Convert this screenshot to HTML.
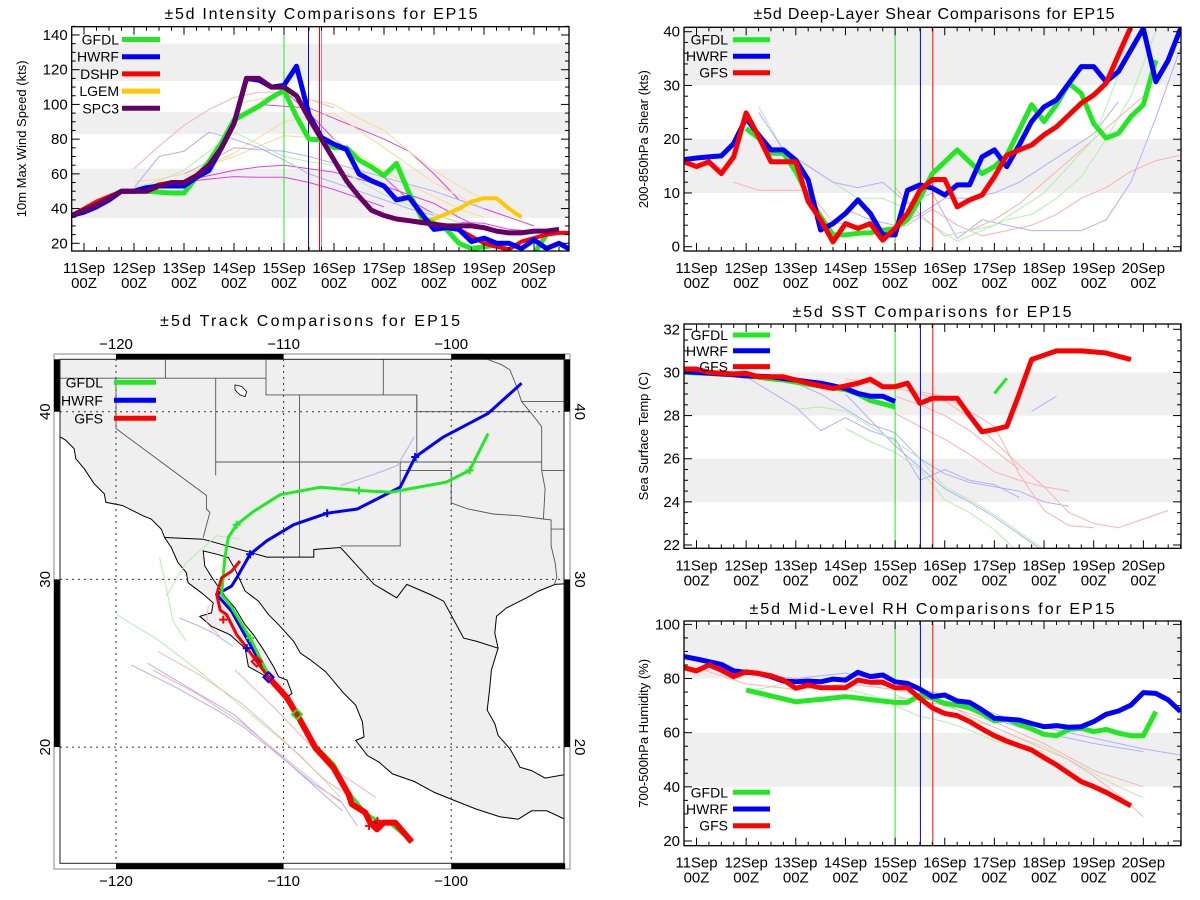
<!DOCTYPE html>
<html><head><meta charset="utf-8"><title>EP15 comparisons</title>
<style>
html,body{margin:0;padding:0;background:#fff;}
svg{display:block;font-family:"Liberation Sans",sans-serif;}
</style></head>
<body>
<svg id="root" width="1200" height="900" viewBox="0 0 1200 900" xmlns="http://www.w3.org/2000/svg">
<defs>
<clipPath id="c1"><rect x="71.7" y="26.7" width="497.3" height="224.3"/></clipPath>
<clipPath id="c2"><rect x="684" y="27.3" width="497" height="223.7"/></clipPath>
<clipPath id="c3"><rect x="684" y="324" width="497" height="224.3"/></clipPath>
<clipPath id="c4"><rect x="684" y="621" width="497" height="224.7"/></clipPath>
<clipPath id="cm"><rect x="60" y="359.3" width="504" height="504"/></clipPath>
</defs>
</svg>
<script>
// ---------- Intensity (kts), 6-hourly starting 10 Sep 18Z (t=-0.25 days from 11Sep00Z)
const intStart = -0.25;
const intGFDL = [36,38,42,46,50,50,50,49.5,49,49,58,67,78,91,95,99,104,108,93,80,79.5,75,75,68,64,59,66,49,35,31.5,28,20,17,18,19,16,null,14,25];
const intHWRF = [36,38,41,45,50,50,52,53,53,53,58,62,75,89,115,114,110,111,122,94,81,77,74,60,56,53,45,46.5,37,28,29,28,21,23,20,20,17,22,17,20,16];
const intDSHP = [36,40,44,47,50,50,51,54,55,55,59,65,75,89,115,115,110,110,105,92,80,68,56,47,39,36,34,33,32,31,30,28,24,20,18,16.5,21,23,25,26,26];
const intLGEM = [36,39,42,46,50,50,50,53,55,55,59,65,75,89,115,115,110,110,105,92,80,68,56,47,39,36,34,33,33,34,37,40,44,46,46,40,35];
const intSPC3 = [36,39,42,46,50,50,50,53,55,55,59,65,75,89,115,115,110,110,105,92,80,68,56,47,39,36,34,33,32,31,30,30,30,29,27,26,26,27,27,28];
const intLegend = ['GFDL','HWRF','DSHP','LGEM','SPC3'];
// faint ensemble members: start day, 12-hourly values
const intThinStarts = [1,2,2,3.5,4,1,2,3,1,2,1];
const intThinColors = ['#ffb0b0','#e040e0','#e040e0','#e040e0','#e040e0','#ffd890','#ffd890','#ffd890','#b0b0ff','#b0b0ff','#b0f0b0'];
const intThinVals = [
 [63,76,88,97,104,107,107,103,98],
 [55.5,57,58.4,58,58,55,51,46,41],
 [56,59,62,64,65,63,61,57,53,48,43,35,28],
 [100,99,98,92,86,80,73,60,45,40,35,30],
 [108,95,80,69,58,45,37,32,31.5,28,27],
 [55.5,57,60,65,70,76,82,81,80,71,62,54,47,40,35],
 [58,65,72,81,90,93,95,85,75,65,55,47,40],
 [100,103,106,103,100,92,85,73,62,53,45],
 [52,70,73,84,80,75,68,60,55,50,45,40,36],
 [60,67,75,74,73,70,66,62,58,54,50,45,40],
 [52,56,62,73,84,77,70,67,65,56,48,42,37,32,28]
];
// ---------- Shear (kts)
const shStart = -0.25;
const shHWRF = [16.2,16.5,16.7,16.9,19.2,23.9,20.8,18,18,16.1,12.4,3.1,4.3,6.2,8.7,6.2,2.2,2.2,10.5,11.5,10.9,9.6,11.5,11.5,16.7,18,14.9,18.9,23.3,26,27.3,30.4,33.5,33.5,30.7,32.6,36.6,40.6,30.7,34.7,40.6];
const shGFS = [15.8,14.9,15.8,13.6,16.7,24.9,20.5,15.8,15.8,15.8,8.4,5,0.9,4.3,3.4,4.3,1.2,3.4,6.2,10.5,12.5,12.5,7.4,8.7,9.6,13,17,18,18.9,20.8,22.3,24.5,26.7,28.2,30.4,35.7,40.9];
const shGFDLStart = 1.0;
const shGFDL = [22,20.2,17.4,17.4,14,9.3,5.6,2.2,2.2,2.5,2.6,3,3.4,5,9,13.6,15.8,18,15.8,13.6,14.9,17,21.7,26.4,23.3,26.4,30.4,28.5,22.9,20.2,21.1,24.2,26.4,34.7];
const shThinStarts = [0.75,1.25,1.25,3,4,5];
const shThinColors = ['#ffb0b0','#b0f0b0','#b0b0ff','#b0b0ff','#ffb0b0','#b0f0b0'];
const shThinVals = [
 [12,10.5,10.5,10.5,4.5,4,3.5,4,7,4,2,3,4,6,9,11,14,16,17,20,22],
 [26,18,15,12,9,9,7,4,1,3,5,6,9,13,20,28,40],
 [25,18,15,12,11,12,8,10,1.5,5,4,3,3,3,5,12,24,37,26],
 [7,5,4,6,9,9,10,12,15,18,21,27],
 [11,6,2,3,5,8,12,16,20,24,28],
 [2,3,4,7,10,15,20,32]
];
// ---------- SST (C)
const sstStart = -0.25;
const sstGFS = [30.16,30.16,30.0,29.96,29.93,29.96,29.8,29.8,29.8,29.65,29.5,29.37,29.26,29.37,29.5,29.68,29.34,29.34,29.5,28.57,28.8,28.8,28.8,28.0,27.25,27.35,27.5,29.0,30.6,30.8,31.0,31.0,31.0,30.95,30.9,30.75,30.6];
const sstHWRF = [30.04,30.0,29.97,29.93,29.9,29.84,29.82,29.8,29.72,29.65,29.57,29.5,29.38,29.26,29.03,28.9,28.9,28.65];
const sstGFDL = [30.0,29.98,29.95,29.92,29.88,29.84,29.78,29.7,29.65,29.55,29.45,29.37,29.28,29.2,29.0,28.7,28.55,28.4];
const sstGFDL2Start = 6.0;
const sstGFDL2 = [29.03,29.73];
const sstThinStarts = [1,2,3,6.75,2,3,3,4,4.5,4];
const sstThinColors = ['#b0b0ff','#b0b0ff','#b0b0ff','#b0b0ff','#b0f0b0','#b0f0b0','#ffb0b0','#ffb0b0','#ffb0b0','#ffb0b0'];
const sstThinVals = [
 [29.8,29.1,28.4,27.3,27.9,27.3,26.9,25.0,25.5,25.0,24.8,24.2],
 [29.5,29.0,28.3,27.6,27.2,26.0,25.3,24.9,24.7,24.5,24.0,23.8],
 [29.0,27.8,26.6,25.6,24.6,24.0,23.3,22.5,21.7],
 [28.2,28.9],
 [28.3,28.4,28.2,27.5,26.8,26.0,24.7,24.1,23.4,22.6,21.8],
 [27.4,26.8,26.3,25.5,24.1,23.5,22.7,21.6],
 [29.7,29.5,29.3,29.0,28.7,27.9,26.8,25.7,24.7,23.5,23.0,22.8,23.2,23.6],
 [28.1,27.5,26.9,26.2,25.4,25.0,24.7,24.5],
 [29.1,28.9,28.2,27.5,25.3,23.6,22.9,22.8],
 [28.9,28.5,28.0,27.3,26.4,25.5]
];
// ---------- RH (%)
const rhStart = -0.25;
const rhHWRF = [88.1,87.2,86.2,85.2,82.8,82.3,81.9,80.7,79.1,78.8,79.1,78.8,79.8,79.4,82.3,80.7,81.3,78.8,78.2,76.1,73.3,73.9,71.7,71.2,68.4,65.3,65,64.7,63.4,62.2,62.6,62,62.2,64.1,66.8,68,70.2,74.8,74.5,72.1,67.8];
const rhGFS = [84,82.8,85,83.1,80.7,82.5,81.9,81,79.4,76.4,77.6,76.6,76.6,76.6,79.4,78.6,78.6,76.6,76.6,72.7,69.2,67.1,66.3,64.1,61.4,58.9,56.9,55.2,53.6,50.8,48.1,45,41.9,40.1,38,35.5,33];
const rhGFDLStart = 1.0;
const rhGFDL = [75.8,74.7,73.6,72.5,71.4,71.9,72.3,72.8,73.3,72.8,72.2,71.7,71.2,71.2,73.9,72.7,70.8,70.2,69.2,67.1,64.3,65,63.1,61.4,59.4,58.9,61.2,61.6,60.4,61.2,59.8,58.9,58.9,67.8];
const rhThinStarts = [4.5,1,4,0,4,1];
const rhThinColors = ['#b0b0ff','#b0f0b0','#b0f0b0','#ffb0b0','#ffb0b0','#b0b0ff'];
const rhThinVals = [
 [76,74,70,67,64,62,60,58,56,54,52.5,51,49.5],
 [75,77,79,78,76,74,70,66,64,61,57,55,53],
 [74,71,68,65,62,58,55,50,45,40,36],
 [84,81,78,77,76,77,78,77,76,74,71,66,62,58,54,50,44,37,29],
 [73,72,70,67,64,60,56,51,46,43,40],
 [83,81,80,81,82,80,79,76,73,69,65,62,60,58,56,54.5,53]
];
// ---------- Track data (lon, lat)
const trkGFS = [[-102.35,14.35],[-103.34,15.5],[-104.04,15.5],[-104.43,15.1],[-104.83,15.5],[-105.13,16.1],[-105.93,16.6],[-106.13,17.2],[-107.02,18.77],[-108.1,19.96],[-109.2,21.95],[-109.8,22.94],[-110.9,24.17],[-111.6,25.1],[-112.2,25.93],[-112.8,26.7],[-113.4,27.9],[-113.78,28.17],[-113.99,29.1],[-113.7,30.09],[-113.1,30.49],[-112.6,31.1]];
const trkHWRF = [[-102.35,14.35],[-103.34,15.5],[-104.04,15.45],[-104.83,15.5],[-105.13,16.1],[-105.93,16.6],[-106.13,17.2],[-107.02,18.8],[-108.1,20.0],[-109.2,21.95],[-109.8,22.94],[-110.9,24.17],[-112.1,26.3],[-113.1,28.1],[-113.99,29.1],[-113.1,29.6],[-112.8,30.09],[-112.0,31.5],[-111.0,32.3],[-109.4,33.26],[-107.4,33.95],[-105.6,34.2],[-103.04,35.5],[-102.15,37.3],[-100.46,38.5],[-97.8,39.9],[-95.8,41.7]];
const trkGFDL = [[-102.35,14.35],[-103.6,15.4],[-104.4,15.6],[-105.13,16.1],[-106.1,17.3],[-107.0,19.0],[-108.1,20.1],[-109.2,21.95],[-110.9,24.3],[-112.0,26.5],[-113.2,28.5],[-113.7,29.1],[-113.5,31.3],[-113.3,32.5],[-112.8,33.26],[-111.8,34.05],[-110.2,35.05],[-107.8,35.5],[-105.5,35.3],[-103.6,35.2],[-100.3,35.8],[-98.9,36.5],[-97.8,38.7]];
const trkThinColors = ['#b0f0b0','#b0b0ff','#b0b0ff','#ffb0b0','#ffb0b0','#ffb0b0','#b0f0b0','#b0f0b0','#ffb0b0','#b0b0ff'];
const trkThin = [
 [[-119.96,27.9],[-117.5,26.4],[-115.0,24.5],[-112.0,22.0],[-109.0,19.5],[-106.6,17.0]],
 [[-119.1,24.9],[-116.5,23.6],[-113.8,22.1],[-112.4,21.2],[-110.5,19.7],[-108.2,17.8],[-106.6,16.8],[-105.6,15.3]],
 [[-118.1,25.0],[-115.6,23.5],[-112.9,21.9],[-110.0,19.3],[-107.3,16.9],[-106.5,16.2]],
 [[-117.5,25.7],[-115.0,24.3],[-112.5,22.6],[-110.0,20.4],[-107.5,18.0],[-106.6,17.4]],
 [[-117.8,24.6],[-115.2,23.2],[-112.6,21.5],[-110.0,19.4],[-107.4,17.3],[-106.6,16.7]],
 [[-112.9,24.6],[-110.6,22.4],[-108.5,20.2],[-106.6,18.4],[-104.5,17.0]],
 [[-117.4,31.3],[-117.0,29.5],[-116.6,27.5],[-115.8,26.3]],
 [[-112.6,32.4],[-114.0,32.6],[-115.8,31.0],[-117.0,29.0]],
 [[-114.5,28.4],[-114.6,27.4],[-113.8,26.6]],
 [[-116.2,27.7],[-115.0,27.2],[-114.2,26.8],[-113.0,26.0]]
];
const trkThinHWRF2 = [[-106.6,35.6],[-104.5,36.3],[-103.2,36.8],[-102.2,38.5]];
const trkCrossHWRF = [[-112.0,31.5],[-107.4,33.95],[-102.15,37.3],[-112.2,25.9]];
const trkCrossGFDL = [[-112.8,33.26],[-105.5,35.3],[-98.9,36.5],[-112.0,26.5]];
const trkCrossGFS = [[-113.6,27.6],[-104.9,15.3],[-104.4,15.6]];
const trkDiamonds = [[-110.9,24.17,'#0000ff'],[-109.2,21.95,'#22e822'],[-111.6,25.1,'#ff0000']];
// ---------- Geography
const landPoly = [[-123.5,43.3],[-123.5,38.6],[-123.0,38.3],[-122.5,37.8],[-122.4,37.2],[-121.9,36.6],[-121.3,35.7],[-120.7,35.1],[-120.6,34.6],[-119.6,34.4],[-118.8,34.0],[-118.4,33.8],[-117.9,33.6],[-117.3,33.0],[-117.1,32.5],[-116.7,31.9],[-116.3,31.0],[-115.8,30.4],[-115.7,29.8],[-114.9,29.2],[-114.2,28.6],[-114.3,28.0],[-115.0,27.8],[-114.3,27.2],[-113.2,26.7],[-112.3,25.9],[-112.1,24.8],[-111.2,24.3],[-110.3,23.5],[-109.9,22.9],[-109.5,23.2],[-109.8,24.0],[-110.3,24.2],[-110.6,24.8],[-111.2,25.8],[-111.8,26.7],[-112.3,27.3],[-112.9,28.3],[-113.5,29.0],[-114.2,30.0],[-114.7,30.8],[-114.8,31.7],[-114.0,31.5],[-113.3,31.3],[-112.9,30.6],[-112.3,29.3],[-111.5,28.7],[-110.9,27.9],[-110.3,27.3],[-109.4,26.3],[-109.0,25.6],[-108.4,25.2],[-107.5,24.5],[-106.4,23.2],[-105.7,22.5],[-105.3,21.5],[-105.2,20.6],[-105.7,20.4],[-105.0,19.5],[-104.3,19.1],[-103.5,18.4],[-102.2,17.95],[-101.0,17.3],[-99.9,16.85],[-98.5,16.3],[-97.1,15.85],[-96.0,15.7],[-95.2,16.2],[-94.3,16.2],[-93.0,15.6],[-93.0,18.4],[-94.4,18.15],[-95.2,18.6],[-95.9,18.8],[-96.1,19.2],[-96.5,19.9],[-97.2,20.7],[-97.4,21.4],[-97.85,22.2],[-97.7,23.5],[-97.6,24.6],[-97.2,25.9],[-97.4,26.8],[-97.3,27.8],[-96.7,28.3],[-95.5,28.9],[-94.8,29.3],[-93.8,29.7],[-93.0,29.75],[-93.0,43.3]];
const borderMX = [[-117.07,32.5],[-114.8,32.4],[-111.0,31.33],[-108.2,31.33],[-108.2,31.78],[-106.6,31.9],[-104.6,29.7],[-103.25,28.9],[-102.65,29.7],[-101.25,29.1],[-100.45,28.7],[-99.26,26.5],[-98.47,26.3],[-97.2,25.9]];
const stateLines = [
 [[-120,42],[-120,39],[-114.6,35.0],[-114.6,34.2],[-114.4,34.0],[-114.8,32.5]],
 [[-123.5,42],[-111.05,42]],
 [[-117.05,43.3],[-117.05,42]],
 [[-114.05,42],[-114.05,36.2]],
 [[-111.05,43.3],[-111.05,41],[-109.05,41]],
 [[-109.05,41],[-109.05,31.33]],
 [[-114.05,37],[-94.6,37]],
 [[-109.05,41],[-102.05,41],[-102.05,40],[-95.3,40]],
 [[-104.05,43.3],[-104.05,41]],
 [[-102.05,41],[-102.05,37]],
 [[-103.04,37],[-103.04,32],[-106.6,32]],
 [[-103.04,36.5],[-100,36.5],[-100,34.56],[-99,34.2],[-97.5,33.9],[-96,33.8],[-94.5,33.6],[-94.04,33.55],[-94.04,32],[-93.8,31],[-93.7,30.1],[-93.85,29.7]],
 [[-94.6,39.1],[-94.6,36.5],[-94.4,35.4],[-94.5,33.6]],
 [[-94.6,36.5],[-93.0,36.5]],
 [[-95.8,40.6],[-93.0,40.6]],
 [[-98.3,43.3],[-97.0,42.8],[-96.5,42.5],[-96.1,41.5],[-95.8,40.6],[-95.3,40.0],[-94.9,39.5],[-94.6,39.1]],
 [[-94.04,33.0],[-93.0,33.0]]
];
const saltLake = [[-112.9,41.6],[-112.5,41.5],[-112.2,41.2],[-112.3,40.9],[-112.6,41.0],[-112.9,41.3],[-112.9,41.6]];
const dayLabels = ['11Sep','12Sep','13Sep','14Sep','15Sep','16Sep','17Sep','18Sep','19Sep','20Sep'];

const NS='http://www.w3.org/2000/svg';
const root=document.getElementById('root');
function mk(tag, attrs, parent, name){
  const e=document.createElementNS(NS,tag);
  for(const k in attrs) e.setAttribute(k,attrs[k]);
  
  
  (parent||root).appendChild(e);
  return e;
}
function txt(s, attrs, parent, name){ const t=mk('text',attrs,parent,name); t.textContent=s; return t; }

function panel(P){
  const g=mk('g',{},root,P.name);
  const X=t=>P.x0+t*P.dx;
  const Y=v=>P.yp0-(v-P.yv0)*P.ky;
  P.bands.forEach(b=>{
    mk('rect',{x:P.left,y:Y(b[1]),width:P.right-P.left,height:Y(b[0])-Y(b[1]),fill:'#efefef'},g,P.pre+'-shaded-band');
  });
  const clip=mk('g',{'clip-path':'url(#'+P.clip+')'},g,P.pre+'-plot-area');
  function line(start, vals, color, w, nm, step){
    let d='', pen=false;
    vals.forEach((v,i)=>{ if(v===null){pen=false;return;} const x=X(start+i*step), y=Y(v); d+=(pen?'L':'M')+x.toFixed(1)+' '+y.toFixed(1); pen=true; });
    return mk('path',{d:d,fill:'none',stroke:color,'stroke-width':w,'stroke-linejoin':'round'},clip,nm);
  }
  P.thin.starts.forEach((s,i)=>{ line(s,P.thin.vals[i],P.thin.colors[i],1,P.pre+'-member-line',0.5); });
  P.vlines.forEach(v=>{ mk('line',{x1:X(v[0]),x2:X(v[0]),y1:P.top,y2:P.bottom,stroke:v[1],'stroke-width':1},clip,P.pre+'-init-time-line'); });
  P.series.forEach(s=>{ line(s.start,s.vals,s.color,s.w||5,P.pre+'-'+s.label.toLowerCase()+'-line',0.25); });
  mk('rect',{x:P.left,y:P.top,width:P.right-P.left,height:P.bottom-P.top,fill:'none',stroke:'#000','stroke-width':1.3},g,P.pre+'-frame');
  for(let v=P.ymin; v<=P.ymax+1e-6; v+=P.yminor){
    const q=v/P.ymajor, major=Math.abs(q-Math.round(q))<1e-6;
    const L=major?8:4, y=Y(v);
    if(y<P.top-0.5||y>P.bottom+0.5) continue;
    mk('line',{x1:P.left,x2:P.left+L,y1:y,y2:y,stroke:'#000'},g,P.pre+'-y-tick');
    mk('line',{x1:P.right,x2:P.right-L,y1:y,y2:y,stroke:'#000'},g,P.pre+'-y-tick');
    if(major) txt(String(Math.round(v)),{x:P.left-4,y:y+5,'font-size':15,'text-anchor':'end'},g,P.pre+'-y-tick-label');
  }
  for(let t=-0.25; t<=9.8; t+=0.25){
    const x=X(t); if(x<P.left||x>P.right) continue;
    const major=Math.abs(t-Math.round(t))<1e-6, L=major?8:4;
    mk('line',{x1:x,x2:x,y1:P.bottom,y2:P.bottom-L,stroke:'#000'},g,P.pre+'-x-tick');
    mk('line',{x1:x,x2:x,y1:P.top,y2:P.top+L,stroke:'#000'},g,P.pre+'-x-tick');
  }
  dayLabels.forEach((d,i)=>{
    txt(d,{x:X(i),y:P.bottom+22,'font-size':15,'text-anchor':'middle'},g,P.pre+'-x-tick-label');
    txt('00Z',{x:X(i),y:P.bottom+37,'font-size':15,'text-anchor':'middle'},g,P.pre+'-x-tick-label');
  });
  txt(P.ytitle,{x:0,y:0,'font-size':13,'text-anchor':'middle',transform:'translate('+P.ytx+','+((P.top+P.bottom)/2)+') rotate(-90)'},g,P.pre+'-y-axis-title');
  txt(P.title,{x:P.tx,y:P.ty,'font-size':16,'text-anchor':'middle',textLength:P.tw,lengthAdjust:'spacing'},g,P.pre+'-chart-title');
  P.legend.forEach((lab,i)=>{
    const s=P.series.find(q=>q.label===lab);
    const ly=P.legY+i*P.legDy;
    const lg=mk('g',{},g,P.pre+'-legend-entry');
    mk('line',{x1:P.legX1,x2:P.legX2,y1:ly,y2:ly,stroke:s.color,'stroke-width':5},lg,P.pre+'-legend-swatch');
    txt(lab,{x:P.legTx,y:ly+5,'font-size':14,'text-anchor':'end'},lg,P.pre+'-legend-label');
  });
}

const G='#22e822', B='#0000ff', R='#ff0000', Yel='#ffc800', Pur='#660066';
panel({name:'intensity-panel',pre:'intensity',clip:'c1',x0:84,dx:50,left:71.7,right:569,top:26.7,bottom:251,yv0:20,yp0:243.3,ky:1.736,
 ymin:15,ymax:145,ymajor:20,yminor:5,bands:[[34.5,63],[83,95.5],[113.5,135]],
 vlines:[[4.0,'#22e822'],[4.49,'#0000ff'],[4.71,'#ff0000'],[4.75,'#b080b0']],
 thin:{starts:intThinStarts,vals:intThinVals,colors:intThinColors},
 series:[{label:'LGEM',start:intStart,vals:intLGEM,color:Yel,w:4},{label:'GFDL',start:intStart,vals:intGFDL,color:G},{label:'DSHP',start:intStart,vals:intDSHP,color:R,w:4},{label:'HWRF',start:intStart,vals:intHWRF,color:B},{label:'SPC3',start:intStart,vals:intSPC3,color:Pur}],
 legend:intLegend,legY:39.5,legDy:17.2,legX1:122,legX2:160,legTx:119,
 ytitle:'10m Max Wind Speed (kts)',ytx:26,title:'±5d Intensity Comparisons for EP15',tx:321,ty:19,tw:313});
panel({name:'shear-panel',pre:'shear',clip:'c2',x0:696.5,dx:49.65,left:684,right:1181,top:27.3,bottom:251,yv0:0,yp0:246.7,ky:5.375,
 ymin:0,ymax:40,ymajor:10,yminor:2,bands:[[10,20],[30,41]],
 vlines:[[4.0,'#22e822'],[4.51,'#0000ff'],[4.76,'#ff0000']],
 thin:{starts:shThinStarts,vals:shThinVals,colors:shThinColors},
 series:[{label:'GFDL',start:shGFDLStart,vals:shGFDL,color:G},{label:'HWRF',start:shStart,vals:shHWRF,color:B},{label:'GFS',start:shStart,vals:shGFS,color:R}],
 legend:['GFDL','HWRF','GFS'],legY:39.7,legDy:16.5,legX1:733,legX2:770,legTx:728,
 ytitle:'200-850hPa Shear (kts)',ytx:648,title:'±5d Deep-Layer Shear Comparisons for EP15',tx:934,ty:19,tw:361});
panel({name:'sst-panel',pre:'sst',clip:'c3',x0:696.5,dx:49.65,left:684,right:1181,top:324,bottom:548.3,yv0:22,yp0:545,ky:21.57,
 ymin:22,ymax:32,ymajor:2,yminor:0.5,bands:[[24,26],[28,30]],
 vlines:[[4.0,'#22e822'],[4.51,'#0000ff'],[4.76,'#ff0000']],
 thin:{starts:sstThinStarts,vals:sstThinVals,colors:sstThinColors},
 series:[{label:'GFDL',start:sstStart,vals:sstGFDL,color:G},{label:'HWRF',start:sstStart,vals:sstHWRF,color:B},{label:'GFS',start:sstStart,vals:sstGFS,color:R},{label:'GFDL2',start:sstGFDL2Start,vals:sstGFDL2,color:G,w:3}],
 legend:['GFDL','HWRF','GFS'],legY:335,legDy:15.8,legX1:733,legX2:770,legTx:728,
 ytitle:'Sea Surface Temp (C)',ytx:648,title:'±5d SST Comparisons for EP15',tx:932,ty:317,tw:279});
panel({name:'rh-panel',pre:'rh',clip:'c4',x0:696.5,dx:49.65,left:684,right:1181,top:621,bottom:845.7,yv0:20,yp0:841,ky:2.708,
 ymin:20,ymax:100,ymajor:20,yminor:5,bands:[[40,60],[80,100]],
 vlines:[[4.0,'#22e822'],[4.51,'#0000ff'],[4.76,'#ff0000']],
 thin:{starts:rhThinStarts,vals:rhThinVals,colors:rhThinColors},
 series:[{label:'GFDL',start:rhGFDLStart,vals:rhGFDL,color:G},{label:'HWRF',start:rhStart,vals:rhHWRF,color:B},{label:'GFS',start:rhStart,vals:rhGFS,color:R}],
 legend:['GFDL','HWRF','GFS'],legY:792.3,legDy:16.7,legX1:733,legX2:770,legTx:728,
 ytitle:'700-500hPa Humidity (%)',ytx:648,title:'±5d Mid-Level RH Comparisons for EP15',tx:932,ty:614,tw:365});

// ---------- Map
(function(){
  const g=mk('g',{},root,'track-map');
  const LX=lon=>116+(lon+120)*16.76;
  const LY=lat=>411.7-(lat-40)*16.77;
  const pth=(pts,close)=>pts.map((p,i)=>(i?'L':'M')+LX(p[0]).toFixed(1)+' '+LY(p[1]).toFixed(1)).join('')+(close?'Z':'');
  txt('±5d Track Comparisons for EP15',{x:310,y:326,'font-size':16,'text-anchor':'middle',textLength:300,lengthAdjust:'spacing'},g,'map-title');
  mk('rect',{x:54,y:354,width:516,height:515,fill:'#fff',stroke:'#999','stroke-width':1.2},g,'map-outer-frame');
  const lonBars=[[-123.4,-120,false],[-120,-110,true],[-110,-100,false],[-100,-93.2,true]];
  lonBars.forEach(b=>{ if(b[2]){ const x1=Math.max(LX(b[0]),54), x2=Math.min(LX(b[1]),570);
    mk('rect',{x:x1,y:354,width:x2-x1,height:5.3,fill:'#000'},g,'map-frame-bar');
    mk('rect',{x:x1,y:863.3,width:x2-x1,height:5.7,fill:'#000'},g,'map-frame-bar'); }});
  const latBars=[[40,43.3,true],[30,40,false],[20,30,true],[12,20,false]];
  latBars.forEach(b=>{ if(b[2]){ const y1=Math.max(LY(b[1]),359.3), y2=Math.min(LY(b[0]),863.3);
    mk('rect',{x:54,y:y1,width:6,height:y2-y1,fill:'#000'},g,'map-frame-bar');
    mk('rect',{x:564,y:y1,width:6,height:y2-y1,fill:'#000'},g,'map-frame-bar'); }});
  const cg=mk('g',{'clip-path':'url(#cm)'},g,'map-area');
  mk('rect',{x:60,y:359.3,width:504,height:504,fill:'#fff'},cg,'ocean');
  mk('path',{d:pth(landPoly,true),fill:'#efefef',stroke:'#000','stroke-width':1},cg,'land-coastline');
  mk('path',{d:pth(saltLake,true),fill:'#fff',stroke:'#000','stroke-width':0.8},cg,'great-salt-lake');
  stateLines.forEach(s=>{ mk('path',{d:pth(s,false),fill:'none',stroke:'#555','stroke-width':0.9},cg,'state-border'); });
  mk('path',{d:pth(borderMX,false),fill:'none',stroke:'#000','stroke-width':1},cg,'country-border');
  [-120,-110,-100].forEach(l=>{ mk('line',{x1:LX(l),x2:LX(l),y1:359,y2:863,stroke:'#333','stroke-dasharray':'2,4'},cg,'longitude-gridline'); });
  [20,30,40].forEach(l=>{ mk('line',{x1:60,x2:564,y1:LY(l),y2:LY(l),stroke:'#333','stroke-dasharray':'2,4'},cg,'latitude-gridline'); });
  trkThin.forEach((t,i)=>{ mk('path',{d:pth(t,false),fill:'none',stroke:trkThinColors[i],'stroke-width':1},cg,'member-track'); });
  mk('path',{d:pth(trkThinHWRF2,false),fill:'none',stroke:'#b0b0ff','stroke-width':1},cg,'member-track');
  mk('path',{d:pth(trkHWRF,false),fill:'none',stroke:B,'stroke-width':3,'stroke-linejoin':'round'},cg,'hwrf-track');
  mk('path',{d:pth(trkGFDL,false),fill:'none',stroke:G,'stroke-width':3,'stroke-linejoin':'round'},cg,'gfdl-track');
  mk('path',{d:pth(trkGFS.slice(0,13),false),fill:'none',stroke:R,'stroke-width':6,'stroke-linejoin':'round'},cg,'gfs-track-thick');
  mk('path',{d:pth(trkGFS.slice(12),false),fill:'none',stroke:R,'stroke-width':3,'stroke-linejoin':'round'},cg,'gfs-track');
  const cross=(p,c,nm)=>{ const x=LX(p[0]),y=LY(p[1]); mk('path',{d:'M'+(x-4)+' '+y+'L'+(x+4)+' '+y+'M'+x+' '+(y-4)+'L'+x+' '+(y+4),stroke:c,'stroke-width':2},cg,nm); };
  trkCrossHWRF.forEach(p=>cross(p,B,'hwrf-track-marker'));
  trkCrossGFDL.forEach(p=>cross(p,G,'gfdl-track-marker'));
  trkCrossGFS.forEach(p=>cross(p,R,'gfs-track-marker'));
  trkDiamonds.forEach(p=>{ const x=LX(p[0]),y=LY(p[1]); mk('path',{d:'M'+x+' '+(y-5)+'L'+(x+5)+' '+y+'L'+x+' '+(y+5)+'L'+(x-5)+' '+y+'Z',fill:'none',stroke:p[2],'stroke-width':2},cg,'track-diamond-marker'); });
  mk('rect',{x:60,y:359.3,width:504,height:504,fill:'none',stroke:'#222','stroke-width':1},g,'map-inner-frame');
  [-120,-110,-100].forEach(l=>{
    txt('−'+Math.abs(l),{x:LX(l),y:349,'font-size':15,'text-anchor':'middle'},g,'map-lon-label');
    txt('−'+Math.abs(l),{x:LX(l),y:886,'font-size':15,'text-anchor':'middle'},g,'map-lon-label');
  });
  [20,30,40].forEach(l=>{
    txt(String(l),{x:0,y:0,'font-size':15,'text-anchor':'middle',transform:'translate(50,'+LY(l)+') rotate(-90)'},g,'map-lat-label');
    txt(String(l),{x:0,y:0,'font-size':15,'text-anchor':'middle',transform:'translate(575,'+LY(l)+') rotate(90)'},g,'map-lat-label');
  });
  const leg=[['GFDL',G,382.3],['HWRF',B,400.3],['GFS',R,418.3]];
  leg.forEach(e=>{
    const lg=mk('g',{},g,'map-legend-entry');
    mk('line',{x1:114,x2:156,y1:e[2],y2:e[2],stroke:e[1],'stroke-width':5},lg,'map-legend-swatch');
    txt(e[0],{x:103,y:e[2]+5,'font-size':14,'text-anchor':'end'},lg,'map-legend-label');
  });
})();
</script>
</body></html>
